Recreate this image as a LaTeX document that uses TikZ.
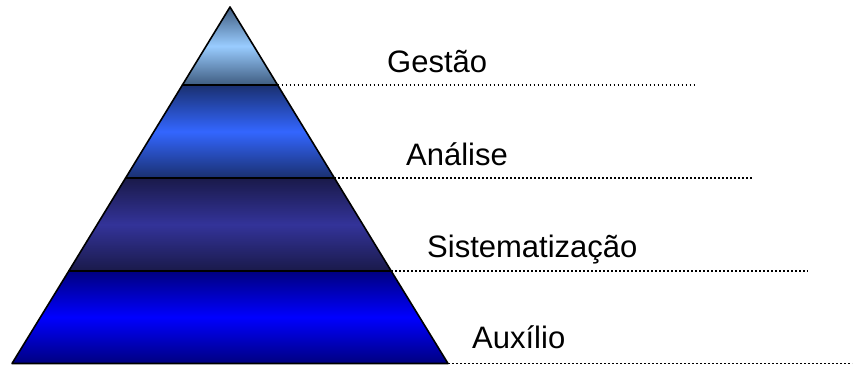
\documentclass[tikz,border=0pt]{standalone}
\usepackage{fontspec}
\setmainfont{Liberation Sans}
\usepackage{xcolor}

\definecolor{gestaoedge}{HTML}{3F5C80}
\definecolor{gestaomid}{HTML}{99CCFF}
\definecolor{analiseedge}{HTML}{1A3070}
\definecolor{analisemid}{HTML}{3366FF}
\definecolor{sistedge}{HTML}{1A1A4A}
\definecolor{sistmid}{HTML}{333399}
\definecolor{auxedge}{HTML}{000080}
\definecolor{auxmid}{HTML}{0000FF}

\begin{document}
\begin{tikzpicture}
  [x=1pt,y=-1pt,
   every node/.style={anchor=base west,inner sep=0pt,font=\fontsize{31}{36}\selectfont},
   level/.style={draw=black,line width=1.6pt,line join=round},
   guide/.style={line width=1.6pt,dash pattern=on 1.6pt off 2.4pt}]
  \useasboundingbox (0,0) rectangle (854,365);

  \coordinate (top) at (230,7);
  \coordinate (l1) at (182.4,85);
  \coordinate (r1) at (277.6,85);
  \coordinate (l2) at (125.6,178);
  \coordinate (r2) at (334.4,178);
  \coordinate (l3) at (68.8,271);
  \coordinate (r3) at (391.2,271);
  \coordinate (l4) at (12,363.5);
  \coordinate (r4) at (448,363.5);

  \shade[level,top color=gestaoedge,bottom color=gestaoedge,middle color=gestaomid]
    (top) -- (r1) -- (l1) -- cycle;
  \shade[level,top color=analiseedge,bottom color=analiseedge,middle color=analisemid]
    (l1) -- (r1) -- (r2) -- (l2) -- cycle;
  \shade[level,top color=sistedge,bottom color=sistedge,middle color=sistmid]
    (l2) -- (r2) -- (r3) -- (l3) -- cycle;
  \shade[level,top color=auxedge,bottom color=auxedge,middle color=auxmid]
    (l3) -- (r3) -- (r4) -- (l4) -- cycle;

  \node (g) at (387,72) {Gestão};
  \node (a) at (406,165) {Análise};
  \node (s) at (427,257) {Sistematização};
  \node (x) at (472,348) {Auxílio};

  \coordinate (ge) at (695,85);
  \coordinate (ae) at (753,178);
  \coordinate (se) at (808,271);
  \coordinate (xe) at (852,363.5);

  \foreach \from/\to in {r1/ge,r2/ae,r3/se,r4/xe}
    \draw[guide] (\from) -- (\to);
\end{tikzpicture}
\end{document}
